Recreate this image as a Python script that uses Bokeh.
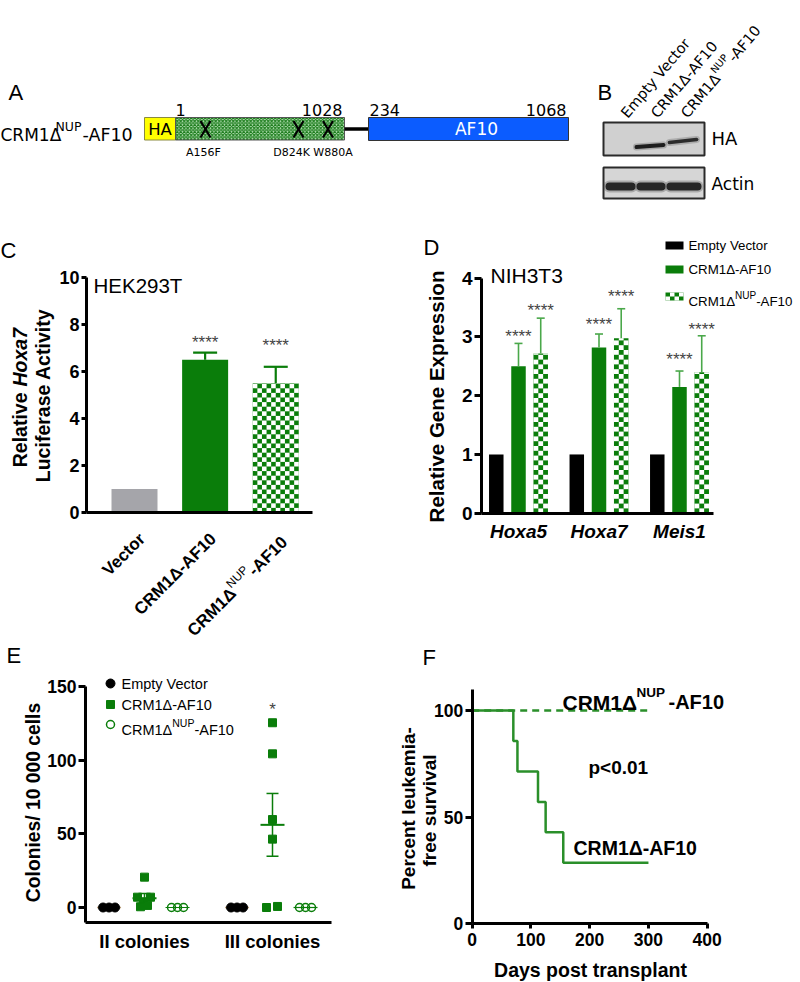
import math
from bokeh.plotting import figure
from bokeh.models import Range1d, Label, LinearAxis, FixedTicker
from bokeh.layouts import column, row
from bokeh.embed import file_html
from bokeh.resources import INLINE

# ---------------------------------------------------------------- data
# Panel A: construct schematic
construct_name = ["CRM1Δ", "NUP", "-AF10"]
domain_text = ["HA", "", "AF10"]
boundary_labels = ["1", "1028", "234", "1068"]
mutations = ["A156F", "D824K", "W880A"]

# Panel B: western blot
blot_lanes = ["Empty Vector", "CRM1Δ-AF10", "CRM1ΔNUP-AF10"]
ha_band = [0.0, 1.0, 0.9]
actin_band = [1.0, 1.0, 1.0]

# Panel C
c_groups = ["Vector", "CRM1Δ-AF10", "CRM1ΔNUP -AF10"]
c_values = [1.0, 6.5, 5.5]
c_errors = [0.0, 0.3, 0.7]
c_stars = ["", "****", "****"]
c_star_y = [0.0, 7.40, 7.28]
c_yticks = [0, 2, 4, 6, 8, 10]

# Panel D
d_genes = ["Hoxa5", "Hoxa7", "Meis1"]
d_empty = [1.0, 1.0, 1.0]
d_crm = [2.50, 2.82, 2.15]
d_crm_err = [0.39, 0.23, 0.27]
d_nup = [2.72, 2.98, 2.40]
d_nup_err = [0.60, 0.50, 0.62]
d_crm_star_y = [3.08, 3.28, 2.68]
d_nup_star_y = [3.51, 3.76, 3.19]
d_yticks = [0, 1, 2, 3, 4]

# Panel E
e_cats = ["II colonies", "III colonies"]
e_empty = [[0, 0, 0], [0, 0, 0]]
e_crm = [[20.6, 7.0, 7.0, 3.6, 1.4, 0.5], [125.4, 104.3, 59.7, 46.4, 0.0, 0.7]]
e_nup = [[0, 0, 0], [0, 0, 0]]
e_empty_mean = [0.0, 0.0]
e_crm_mean = [6.3, 56.1]
e_crm_sem = [3.2, 21.3]
e_nup_mean = [0.0, 0.0]
e_yticks = [0, 50, 100, 150]

# Panel F
f_crm_days = [0, 70, 77, 112, 125, 155, 300]
f_crm_surv = [100, 85.7, 71.4, 57.1, 42.9, 28.6, 28.6]
f_nup_days = [0, 300]
f_nup_surv = [100, 100]
f_xticks = [0, 100, 200, 300, 400]
f_yticks = [0, 50, 100]

# ---------------------------------------------------------------- style
ARIAL = "Liberation Sans"
DEJAVU = "DejaVu Sans"
GREEN = "#0a7d0a"
LGREEN = "#4aa84a"
FGREEN = "#2a8f2a"
GRAY = "#a5a5aa"

W_A = {'C': .722, 'R': .722, 'M': .833, '1': .556, 'Δ': .668, 'N': .722, 'U': .722,
       'P': .667, '-': .333, 'A': .667, 'F': .611, '0': .556, ' ': .278}
W_AB = dict(W_A)
W_AB.update({'Δ': .719, 'A': .722})
W_D = {'C': .698, 'R': .695, 'M': .863, '1': .636, 'Δ': .684, 'N': .748, 'U': .732,
       'P': .603, '-': .361, 'A': .684, 'F': .575, '0': .636, ' ': .318}


def tw(s, size, table):
    return sum(table.get(ch, .6) for ch in s) * size


def make_fig(px0, px1, py0, py1, ox, kx, oy, ky):
    xr = Range1d((px0 - ox) / kx, (px1 - ox) / kx)
    yr = Range1d((oy - py1) / ky, (oy - py0) / ky)
    p = figure(width=px1 - px0, height=py1 - py0, x_range=xr, y_range=yr,
               output_backend="svg", toolbar_location=None,
               x_axis_location=None, y_axis_location=None, min_border=0)
    p.outline_line_color = None
    p.grid.visible = False
    p.background_fill_color = "white"
    p.border_fill_color = "white"
    fx = lambda px: (px - ox) / kx
    fy = lambda py: (oy - py) / ky
    return p, fx, fy


def lab(p, fx, fy, px, py, text, size, style="normal", font=ARIAL, align="left",
        baseline="middle", angle=0.0, color="black"):
    p.add_layout(Label(x=fx(px), y=fy(py), text=text, text_font=font,
                       text_font_size=f"{size}px", text_font_style=style,
                       text_align=align, text_baseline=baseline, angle=angle,
                       text_color=color))


def pieces(p, fx, fy, x0, y0, ang_deg, items, font):
    a = math.radians(ang_deg)
    dx, dy = math.cos(a), -math.sin(a)
    ux, uy = -math.sin(a), -math.cos(a)
    s = 0.0
    for text, size, style, rz, table in items:
        px = x0 + s * dx + rz * ux
        py = y0 + s * dy + rz * uy
        lab(p, fx, fy, px, py, text, size, style, font, "left", "alphabetic", a)
        s += tw(text, size, table)
    return s


def add_axis(p, side, loc, bounds, ticks, size, tick_out=6, standoff=2,
             overrides=None, style="bold", ticks_visible=True):
    ax = LinearAxis(fixed_location=loc, bounds=bounds, ticker=FixedTicker(ticks=ticks))
    ax.axis_line_width = 3
    ax.axis_line_color = "black"
    ax.major_tick_line_width = 3
    ax.major_tick_line_color = "black" if ticks_visible else None
    ax.major_tick_out = tick_out if ticks_visible else 0
    ax.major_tick_in = 0
    ax.minor_tick_line_color = None
    ax.major_label_text_font = ARIAL
    ax.major_label_text_font_style = style
    ax.major_label_text_font_size = f"{size}px"
    ax.major_label_text_color = "black"
    ax.major_label_standoff = standoff
    if overrides:
        ax.major_label_overrides = overrides
    p.add_layout(ax, side)
    return ax


def checker(p, xc, top, bw, ncols, sq_h):
    left = xc - bw / 2
    w = bw / ncols
    nrows = int(math.ceil(top / sq_h - 1e-9))
    xs, ys, ws, hs = [], [], [], []
    for r in range(nrows):
        y0 = r * sq_h
        y1 = min(top, y0 + sq_h)
        for c in range(ncols):
            if (r + c) % 2 == 1:
                xs.append(left + (c + 0.5) * w)
                ys.append((y0 + y1) / 2)
                ws.append(w)
                hs.append(y1 - y0)
    p.rect(x=xs, y=ys, width=ws, height=hs, fill_color="white", line_color=None)


ROW2 = 640   # boundary between middle and bottom rows (page px)
COL3 = 390   # boundary between E and F (page px)

# ================================================================ top (A, B)
pT, tx, ty = make_fig(0, 800, 0, 215, 0, 1, 0, -1)
lab(pT, tx, ty, 8, 92, "A", 22)
lab(pT, tx, ty, 597, 92, "B", 22)

# construct label
lab(pT, tx, ty, 0, 134, construct_name[0], 17, font=DEJAVU, baseline="alphabetic")
lab(pT, tx, ty, 55, 126, construct_name[1], 12.5, font=DEJAVU, baseline="alphabetic")
lab(pT, tx, ty, 82, 134, construct_name[2], 17.5, font=DEJAVU, baseline="alphabetic")
# domains
dom_left = [144, 175, 368]
dom_right = [175, 344, 568]
pT.quad(left=[dom_left[0]], right=[dom_right[0]], top=[117], bottom=[139.5],
        fill_color="#ffff00", line_color="#8a8a40", line_width=1)
pT.quad(left=[dom_left[1]], right=[dom_right[1]], top=[117], bottom=[139.5],
        fill_color="#b8e2b8", hatch_pattern="diagonal_cross", hatch_color="#1d7d1d",
        hatch_scale=3.5, hatch_weight=1.2, line_color="#555555", line_width=1)
pT.segment(x0=[dom_right[1]], y0=[128.5], x1=[dom_left[2]], y1=[128.5],
           line_color="black", line_width=3.5)
pT.quad(left=[dom_left[2]], right=[dom_right[2]], top=[117], bottom=[140],
        fill_color="#0b5cff", line_color="#333333", line_width=1)
lab(pT, tx, ty, 159.5, 129, domain_text[0], 16.5, font=DEJAVU, align="center")
lab(pT, tx, ty, 476, 128.5, domain_text[2], 17, font=DEJAVU, align="center", color="white")
# boundaries
lab(pT, tx, ty, 180, 109, boundary_labels[0], 16, font=DEJAVU, align="center")
lab(pT, tx, ty, 342, 109, boundary_labels[1], 16, font=DEJAVU, align="right")
lab(pT, tx, ty, 369, 109, boundary_labels[2], 16, font=DEJAVU, align="left")
lab(pT, tx, ty, 566, 109, boundary_labels[3], 16, font=DEJAVU, align="right")
# mutations
mut_x = [205, 298, 327.5]
mut_lx = [203, 291, 332.5]
pT.multi_line(xs=[[m - 5, m + 5] for m in mut_x] + [[m + 5, m - 5] for m in mut_x],
              ys=[[120.5, 137] for m in mut_x] * 2, line_color="black", line_width=2.2)
for t, x in zip(mutations, mut_lx):
    lab(pT, tx, ty, x, 152, t, 11, font=DEJAVU, align="center")

# blot
lanes = [620, 654, 687]
pT.quad(left=[603, 603], right=[704, 704], top=[122, 167], bottom=[155, 198],
        fill_color=["#d0d0d0", "#d6d6d6"], line_color="#2a2a2a", line_width=2)
ha_xs = [[lx - 18, lx + 9] for lx in lanes]
ha_ys = [[146, 146], [146.5, 144.5], [142, 139]]
for k in range(3):
    if ha_band[k] > 0:
        pT.multi_line(xs=[ha_xs[k]], ys=[ha_ys[k]], line_color="#333333",
                      line_width=7, line_alpha=0.25 * ha_band[k], line_cap="round")
        pT.multi_line(xs=[ha_xs[k]], ys=[ha_ys[k]], line_color="#1e1e1e",
                      line_width=3.5 * ha_band[k] + 0.5, line_alpha=ha_band[k], line_cap="round")
act_xs = [[609, 631], [640, 661], [670, 697]]
for k in range(3):
    pT.multi_line(xs=[act_xs[k]], ys=[[186, 186]], line_color="#444444",
                  line_width=12, line_alpha=0.3 * actin_band[k], line_cap="round")
    pT.multi_line(xs=[act_xs[k]], ys=[[186, 186]], line_color="#262626",
                  line_width=8, line_alpha=actin_band[k], line_cap="round")
lab(pT, tx, ty, 711, 138, "HA", 18, font=DEJAVU)
lab(pT, tx, ty, 711, 183, "Actin", 17, font=DEJAVU)
ang_b = 50
lab(pT, tx, ty, 623, 115, blot_lanes[0], 14.6, font=DEJAVU, baseline="alphabetic",
    angle=math.radians(ang_b))
lab(pT, tx, ty, 653, 115, blot_lanes[1], 14.6, font=DEJAVU, baseline="alphabetic",
    angle=math.radians(ang_b))
pieces(pT, tx, ty, 683, 115, ang_b, [("CRM1Δ", 14.6, "normal", 0, W_D),
                                     ("NUP", 10, "normal", 6, W_D),
                                     (" -AF10", 14.6, "normal", 0, W_D)], DEJAVU)

# ================================================================ C
pC, cx, cy = make_fig(0, 400, 215, ROW2, 134, 70.625, 512, 23.5)
c_x = [0, 1, 2]
bwc = 46 / 70.625
pC.vbar(x=c_x, top=c_values, width=bwc, fill_color=[GRAY, GREEN, GREEN], line_color=None)
checker(pC, c_x[2], c_values[2], bwc, 10, 4.6 / 23.5)
ex = [i for i in c_x if c_errors[i] > 0]
etop = [c_values[i] + c_errors[i] for i in ex]
pC.segment(x0=ex, y0=[c_values[i] for i in ex], x1=ex, y1=etop, line_color=GREEN, line_width=2.2)
capc = 12 / 70.625
pC.segment(x0=[i - capc for i in ex], y0=etop, x1=[i + capc for i in ex], y1=etop,
           line_color=GREEN, line_width=2.2)
for i in c_x:
    if c_stars[i]:
        pC.add_layout(Label(x=i, y=c_star_y[i] - 3.8 / 23.5, text=c_stars[i], text_font=ARIAL,
                            text_font_size="17px", text_align="center", text_baseline="middle"))
add_axis(pC, "left", cx(86), (0, 10), c_yticks, 18, tick_out=5, standoff=2)
add_axis(pC, "below", 0, (cx(86), cx(312)), [], 18, ticks_visible=False)
lab(pC, cx, cy, 0, 250, "C", 22)
lab(pC, cx, cy, 93, 285, "HEK293T", 20.5)
lab(pC, cx, cy, 19.5, 392, "Relative", 19.5, "bold", align="right", angle=math.pi / 2)
lab(pC, cx, cy, 19.5, 386, "Hoxa7", 19.5, "bold italic", align="left", angle=math.pi / 2)
lab(pC, cx, cy, 42, 395, "Luciferase Activity", 19.5, "bold", align="center", angle=math.pi / 2)
lab(pC, cx, cy, 141.7, 535.6, c_groups[0], 17, "bold", align="right",
    baseline="alphabetic", angle=math.pi / 4)
lab(pC, cx, cy, 212.7, 535.6, c_groups[1], 17, "bold", align="right",
    baseline="alphabetic", angle=math.pi / 4)
c_items = [("CRM1Δ", 17, "bold", 0, W_AB), ("NUP", 12, "normal", 7, W_A),
           (" -AF10", 17, "bold", 0, W_AB)]
Ltot = sum(tw(t, s, tb) for t, s, _, _, tb in c_items)
pieces(pC, cx, cy, 287.3 - Ltot * math.cos(math.pi / 4), 535.6 + Ltot * math.sin(math.pi / 4),
       45, c_items, ARIAL)

# ================================================================ D
pD, dx_, dy_ = make_fig(400, 800, 215, ROW2, 518, 80.5, 512.7, 58.75)
gx = [0, 1, 2]
off = 0.276
bwd = 14.5 / 80.5
pD.vbar(x=[g - off for g in gx], top=d_empty, width=bwd, fill_color="black", line_color=None)
pD.vbar(x=gx, top=d_crm, width=bwd, fill_color=GREEN, line_color=None)
pD.vbar(x=[g + off for g in gx], top=d_nup, width=bwd, fill_color=GREEN, line_color=None)
for g in gx:
    checker(pD, g + off, d_nup[g], bwd, 3, 4.8 / 58.75)
capd = 4 / 80.5
for xs_, vals, errs in [(gx, d_crm, d_crm_err), ([g + off for g in gx], d_nup, d_nup_err)]:
    tops = [v + e for v, e in zip(vals, errs)]
    pD.segment(x0=xs_, y0=vals, x1=xs_, y1=tops, line_color=LGREEN, line_width=1.6)
    pD.segment(x0=[x - capd for x in xs_], y0=tops, x1=[x + capd for x in xs_], y1=tops,
               line_color=LGREEN, line_width=1.6)
for xs_, sy in [(gx, d_crm_star_y), ([g + off for g in gx], d_nup_star_y)]:
    for x, y in zip(xs_, sy):
        pD.add_layout(Label(x=x, y=y - 3.8 / 58.75, text="****", text_font=ARIAL,
                            text_font_size="17px", text_align="center", text_baseline="middle"))
add_axis(pD, "left", dx_(481), (0, 4), d_yticks, 19, tick_out=7, standoff=2)
add_axis(pD, "below", 0, (dx_(481), dx_(713)), gx, 19, standoff=8,
         overrides={g: n for g, n in zip(gx, d_genes)}, style="bold italic", ticks_visible=False)
lab(pD, dx_, dy_, 423, 247, "D", 22)
lab(pD, dx_, dy_, 490, 275, "NIH3T3", 21)
lab(pD, dx_, dy_, 435.5, 396, "Relative Gene Expression", 20.5, "bold", align="center",
    angle=math.pi / 2)
# legend
sw_x = 674
leg_y = [245, 269, 296]
pD.rect(x=[dx_(sw_x)] * 2, y=[dy_(leg_y[0]), dy_(leg_y[1])], width=18 / 80.5, height=8 / 58.75,
        fill_color=["black", GREEN], line_color=None)
pD.rect(x=[dx_(sw_x)], y=[dy_(leg_y[2])], width=18 / 80.5, height=8 / 58.75,
        fill_color=GREEN, line_color=None)
sqx, sqy = [], []
for r in range(2):
    for c in range(4):
        if (r + c) % 2 == 1:
            sqx.append(dx_(sw_x - 9 + 4.5 * c + 2.25))
            sqy.append(dy_(leg_y[2] - 4 + 4 * r + 2))
pD.rect(x=sqx, y=sqy, width=4.5 / 80.5, height=4 / 58.75, fill_color="white", line_color=None)
lab(pD, dx_, dy_, 688, leg_y[0], "Empty Vector", 13.3)
lab(pD, dx_, dy_, 688, leg_y[1], "CRM1Δ-AF10", 13.3)
pieces(pD, dx_, dy_, 688, leg_y[2] + 4.8, 0, [("CRM1Δ", 13.3, "normal", 0, W_A),
                                              ("NUP", 10, "normal", 5.5, W_A),
                                              (" -AF10", 13.3, "normal", 0, W_A)], ARIAL)

# ================================================================ E
pE, ex_, ey_ = make_fig(0, COL3, ROW2, 982, 144, 128, 907, 221 / 150)
offs = [-0.277, 0.0, 0.258]
jit3 = [-6, 0, 6]
jit_crm = [[0, -7, 6, -1, 3, -4], [0, 0, 0, 0, -6, 5]]
mh = 12 / 128
for g in range(2):
    pE.segment(x0=[g + offs[0] - mh], y0=[e_empty_mean[g]], x1=[g + offs[0] + mh],
               y1=[e_empty_mean[g]], line_color="#b89a74", line_width=1.5)
    pE.segment(x0=[g + offs[2] - mh], y0=[e_nup_mean[g]], x1=[g + offs[2] + mh],
               y1=[e_nup_mean[g]], line_color=GREEN, line_width=1.2)
pE.segment(x0=[g - mh for g in range(2)], y0=e_crm_mean, x1=[g + mh for g in range(2)],
           y1=e_crm_mean, line_color=GREEN, line_width=2)
lo = [m - s for m, s in zip(e_crm_mean, e_crm_sem)]
hi = [m + s for m, s in zip(e_crm_mean, e_crm_sem)]
pE.segment(x0=[0, 1], y0=lo, x1=[0, 1], y1=hi, line_color=GREEN, line_width=1.5)
ch = 6 / 128
pE.segment(x0=[g - ch for g in range(2)] * 2, y0=lo + hi, x1=[g + ch for g in range(2)] * 2,
           y1=lo + hi, line_color=GREEN, line_width=1.5)
for g in range(2):
    pE.scatter(x=[g + offs[0] + j / 128 for j in jit3], y=e_empty[g], marker="circle", size=9,
               fill_color="black", line_color="black")
    pE.scatter(x=[g + offs[1] + j / 128 for j in jit_crm[g]], y=e_crm[g], marker="square",
               size=8, fill_color=GREEN, line_color=GREEN)
    pE.scatter(x=[g + offs[2] + j / 128 for j in jit3], y=e_nup[g], marker="circle", size=8,
               fill_color=None, line_color=GREEN, line_width=1.5)
pE.add_layout(Label(x=1, y=ey_(705) - 3.8 / (221 / 150), text="*", text_font=ARIAL,
                    text_font_size="17px", text_align="center", text_baseline="middle"))
add_axis(pE, "left", ex_(85), (-10, 150), e_yticks, 17.5, tick_out=7, standoff=2)
add_axis(pE, "below", -10, (ex_(85), ex_(331)), [0, 1], 18.5, standoff=9,
         overrides={0: e_cats[0], 1: e_cats[1]}, ticks_visible=False)
lab(pE, ex_, ey_, 6, 655, "E", 22)
lab(pE, ex_, ey_, 32.5, 802, "Colonies/ 10 000 cells", 19.3, "bold", align="center",
    angle=math.pi / 2)
pE.scatter(x=[ex_(110)], y=[ey_(683)], marker="circle", size=9, fill_color="black", line_color="black")
pE.scatter(x=[ex_(110)], y=[ey_(704)], marker="square", size=8, fill_color=GREEN, line_color=GREEN)
pE.scatter(x=[ex_(110)], y=[ey_(724)], marker="circle", size=8, fill_color=None,
           line_color=GREEN, line_width=1.5)
lab(pE, ex_, ey_, 121, 683, "Empty Vector", 14.5)
lab(pE, ex_, ey_, 121, 704, "CRM1Δ-AF10", 14.5)
pieces(pE, ex_, ey_, 121, 729.2, 0, [("CRM1Δ", 14.5, "normal", 0, W_A),
                                     ("NUP", 10.5, "normal", 6.5, W_A),
                                     (" -AF10", 14.5, "normal", 0, W_A)], ARIAL)

# ================================================================ F
pF, fx_, fy_ = make_fig(COL3, 800, ROW2, 982, 471.7, 0.5875, 923.3, 2.1333)
pF.step(x=f_nup_days, y=f_nup_surv, mode="after", line_color=FGREEN, line_width=2.5,
        line_dash="7 5")
pF.step(x=f_crm_days, y=f_crm_surv, mode="after", line_color=FGREEN, line_width=2.5)
add_axis(pF, "left", 0, (0, 110), f_yticks, 17.5, tick_out=7, standoff=2)
add_axis(pF, "below", 0, (0, 400), f_xticks, 17.5, tick_out=5, standoff=4)
lab(pF, fx_, fy_, 422, 656.5, "F", 22)
lab(pF, fx_, fy_, 408, 808, "Percent leukemia-", 19, "bold", align="center", angle=math.pi / 2)
lab(pF, fx_, fy_, 428.5, 810, "free survival", 19, "bold", align="center", angle=math.pi / 2)
lab(pF, fx_, fy_, 590, 969, "Days post transplant", 19.5, "bold", align="center")
lab(pF, fx_, fy_, 562, 701.5, "CRM1Δ", 21, "bold", baseline="alphabetic")
lab(pF, fx_, fy_, 636, 692, "NUP", 13.5, "bold", baseline="alphabetic")
lab(pF, fx_, fy_, 668, 701.5, " -AF10", 20, "bold", baseline="alphabetic")
lab(pF, fx_, fy_, 588, 767, "p<0.01", 19, "bold")
lab(pF, fx_, fy_, 573, 847, "CRM1Δ-AF10", 19.5, "bold")

layout = column(pT, row(pC, pD), row(pE, pF))
open("out.html", "w").write(file_html(layout, INLINE))
